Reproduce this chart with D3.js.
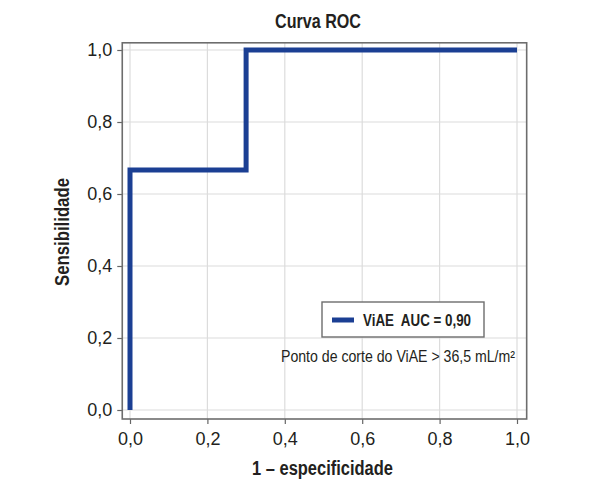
<!DOCTYPE html>
<html>
<head>
<meta charset="utf-8">
<script src="https://cdn.jsdelivr.net/npm/d3@7"></script>
<style>
  body { margin: 0; background: #fff; }
  text { font-family: "Liberation Sans", Arial, sans-serif; fill: #231f20; }
  .bold { font-weight: bold; }
</style>
</head>
<body>
<div id="chart"></div>
<script>
// ROC curve points (1 - specificity, sensitivity)
const fpr = [0, 0, 0.3, 0.3, 1];
const tpr = [0, 0.667, 0.667, 1, 1];
const ticks = [0, 0.2, 0.4, 0.6, 0.8, 1];
const legendLabel = 'ViAE  AUC = 0,90';
const cutoffLabel = 'Ponto de corte do ViAE > 36,5 mL/m²';

const width = 600;
const height = 486;
const lineColor = '#1b3f93';

const svg = d3
  .select('#chart')
  .append('svg')
  .attr('width', width)
  .attr('height', height);

const x = d3.scaleLinear().domain([0, 1]).range([130, 517]);
const y = d3.scaleLinear().domain([0, 1]).range([410, 50]);
const fmt = (v) => d3.format('.1f')(v).replace('.', ',');

// frame bounds, a little outside the data range
const fx0 = x(-0.02), fx1 = x(1.025);
const fy0 = y(-0.025), fy1 = y(1.02);

// grid
svg
  .append('g')
  .selectAll('line')
  .data(ticks)
  .join('line')
  .attr('x1', (d) => x(d))
  .attr('x2', (d) => x(d))
  .attr('y1', fy1)
  .attr('y2', fy0)
  .attr('stroke', '#dcdcdc')
  .attr('stroke-width', 1.2);

svg
  .append('g')
  .selectAll('line')
  .data(ticks)
  .join('line')
  .attr('x1', fx0)
  .attr('x2', fx1)
  .attr('y1', (d) => y(d))
  .attr('y2', (d) => y(d))
  .attr('stroke', '#dcdcdc')
  .attr('stroke-width', 1.2);

// axes (ticks + labels)
const xAxis = svg
  .append('g')
  .attr('transform', `translate(0,${fy0})`)
  .call(d3.axisBottom(x).tickValues(ticks).tickFormat(fmt).tickSize(5).tickPadding(8));
const yAxis = svg
  .append('g')
  .attr('transform', `translate(${fx0},0)`)
  .call(d3.axisLeft(y).tickValues(ticks).tickFormat(fmt).tickSize(5).tickPadding(5));

[xAxis, yAxis].forEach((a) => {
  a.select('.domain').remove();
  a.selectAll('.tick line').attr('stroke', '#666').attr('stroke-width', 1.2);
  a.selectAll('.tick text')
    .attr('font-size', 18)
    .attr('fill', '#231f20');
});

// frame
svg
  .append('rect')
  .attr('x', fx0)
  .attr('y', fy1)
  .attr('width', fx1 - fx0)
  .attr('height', fy0 - fy1)
  .attr('fill', 'none')
  .attr('stroke', '#6d6d6d')
  .attr('stroke-width', 1.6);

// ROC line
const line = d3
  .line()
  .x((d) => x(d[0]))
  .y((d) => y(d[1]));

svg
  .append('path')
  .datum(fpr.map((v, i) => [v, tpr[i]]))
  .attr('d', line)
  .attr('fill', 'none')
  .attr('stroke', lineColor)
  .attr('stroke-width', 5)
  .attr('stroke-linejoin', 'miter');

// legend
const legend = svg.append('g').attr('transform', 'translate(322,302)');
legend
  .append('rect')
  .attr('width', 162)
  .attr('height', 35)
  .attr('fill', '#fff')
  .attr('stroke', '#6d6d6d')
  .attr('stroke-width', 1.4);
legend
  .append('line')
  .attr('x1', 10)
  .attr('x2', 32)
  .attr('y1', 18)
  .attr('y2', 18)
  .attr('stroke', lineColor)
  .attr('stroke-width', 5);
legend
  .append('text')
  .attr('class', 'bold')
  .attr('x', 41)
  .attr('y', 24)
  .attr('font-size', 16.5)
  .attr('textLength', 108)
  .attr('lengthAdjust', 'spacingAndGlyphs')
  .style('white-space', 'pre')
  .text(legendLabel);

svg
  .append('text')
  .attr('x', 281)
  .attr('y', 362)
  .attr('font-size', 16)
  .attr('textLength', 234)
  .attr('lengthAdjust', 'spacingAndGlyphs')
  .text(cutoffLabel);

// titles
svg
  .append('text')
  .attr('class', 'bold')
  .attr('x', 275)
  .attr('y', 28)
  .attr('font-size', 20)
  .attr('textLength', 86)
  .attr('lengthAdjust', 'spacingAndGlyphs')
  .text('Curva ROC');

svg
  .append('text')
  .attr('class', 'bold')
  .attr('x', 252)
  .attr('y', 475)
  .attr('font-size', 20)
  .attr('textLength', 141)
  .attr('lengthAdjust', 'spacingAndGlyphs')
  .text('1 – especificidade');

svg
  .append('text')
  .attr('class', 'bold')
  .attr('transform', 'translate(69,286) rotate(-90)')
  .attr('font-size', 20)
  .attr('textLength', 108)
  .attr('lengthAdjust', 'spacingAndGlyphs')
  .text('Sensibilidade');
</script>
</body>
</html>
